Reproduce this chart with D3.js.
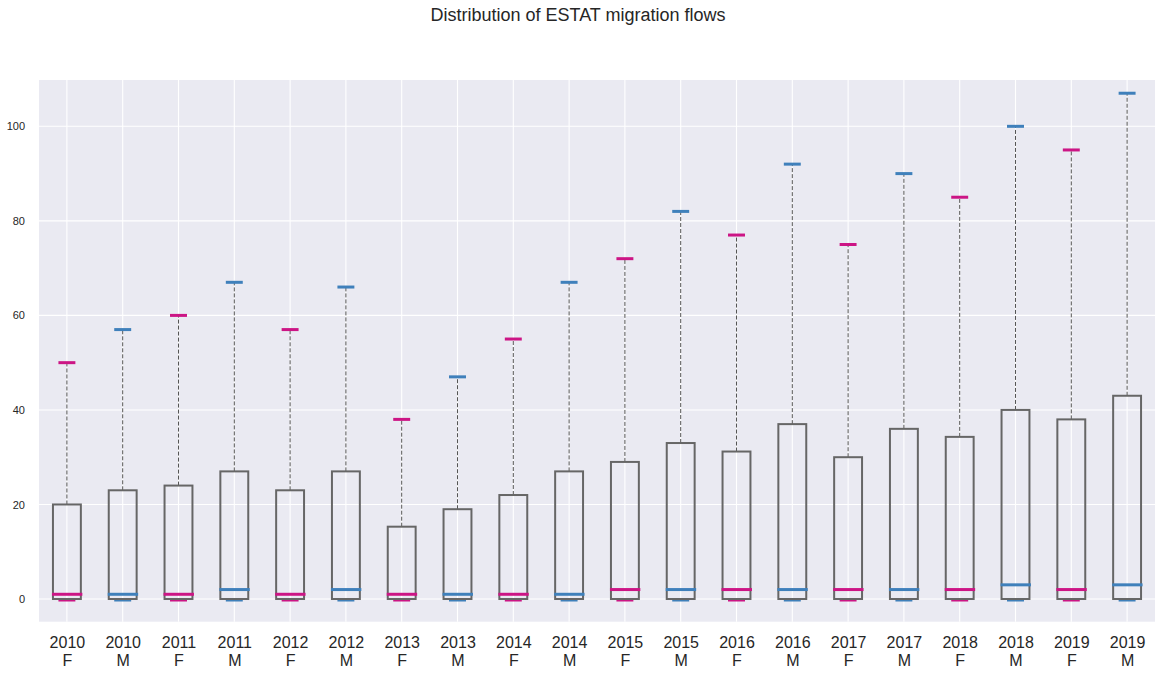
<!DOCTYPE html>
<html><head><meta charset="utf-8">
<script src="https://cdn.jsdelivr.net/npm/d3@7"></script>
<style>body{margin:0;background:#fff;} text{font-family:"Liberation Sans",Arial,sans-serif;}</style>
</head><body><svg id="c" width="1161" height="675"></svg>
<script>
const years   = ["2010","2010","2011","2011","2012","2012","2013","2013","2014","2014","2015","2015","2016","2016","2017","2017","2018","2018","2019","2019"];
const sexes   = ["F","M","F","M","F","M","F","M","F","M","F","M","F","M","F","M","F","M","F","M"];
const q1      = [0,0,0,0,0,0,0,0,0,0,0,0,0,0,0,0,0,0,0,0];
const medians = [1,1,1,2,1,2,1,1,1,1,2,2,2,2,2,2,2,3,2,3];
const q3      = [20,23,24,27,23,27,15.3,19,22,27,29,33,31.2,37,30,36,34.3,40,38,43];
const whiskLo = [0,0,0,0,0,0,0,0,0,0,0,0,0,0,0,0,0,0,0,0];
const whiskHi = [50,57,60,67,57,66,38,47,55,67,72,82,77,92,75,90,85,100,95,107];
const yTicks  = [0,20,40,60,80,100];
const sexColor = {F:"#cc1585", M:"#3f80bb"};

const svg = d3.select("#c");
const L=39, R=1155, T=80, B=621.7;
const idx = d3.range(years.length);
const x = d3.scaleLinear().domain([0.5, years.length+0.5]).range([L,R]);
const y = d3.scaleLinear().domain([-4.8,109.8]).range([B,T]);
const step = x(2)-x(1);
const bw = step*0.5, cw = step*0.25;

svg.append("rect").attr("x",L).attr("y",T).attr("width",R-L).attr("height",B-T).attr("fill","#eaeaf2");
// grid
svg.append("g").selectAll("line").data(yTicks).join("line")
  .attr("x1",L).attr("x2",R).attr("y1",d=>y(d)).attr("y2",d=>y(d))
  .attr("stroke","#fff").attr("stroke-width",1.1);
svg.append("g").selectAll("line").data(idx).join("line")
  .attr("x1",i=>x(i+1)).attr("x2",i=>x(i+1)).attr("y1",T).attr("y2",B)
  .attr("stroke","#fff").attr("stroke-width",1.1);

// y axis labels
const ya = svg.append("g").attr("transform",`translate(${L},0)`)
  .call(d3.axisLeft(y).tickValues(yTicks).tickSize(0).tickPadding(14));
ya.select(".domain").remove();
ya.attr("color","#262626");
ya.selectAll("text").attr("font-size",11).attr("fill","#262626").attr("font-family","Liberation Sans, Arial, sans-serif");

// x axis labels
const xa = svg.append("g").attr("transform",`translate(0,${B})`)
  .call(d3.axisBottom(x).tickValues(idx.map(i=>i+1)).tickSize(0).tickFormat(""));
xa.select(".domain").remove();
xa.selectAll(".tick").each(function(v){
  const i=v-1, t=d3.select(this).append("text").attr("fill","#262626").attr("font-size",16)
    .attr("text-anchor","middle").attr("font-family","Liberation Sans, Arial, sans-serif");
  t.append("tspan").attr("x",0).attr("y",26).text(years[i]);
  t.append("tspan").attr("x",0).attr("y",44).text(sexes[i]);
});

const g = svg.append("g");
idx.forEach(i=>{
  const cx = x(i+1), col = sexColor[sexes[i]];
  // whiskers
  g.append("line").attr("x1",cx).attr("x2",cx).attr("y1",y(q3[i])).attr("y2",y(whiskHi[i]))
    .attr("stroke","#555").attr("stroke-width",1).attr("stroke-dasharray","4,2");
  // caps
  [whiskLo[i], whiskHi[i]].forEach((v,k)=>{
    g.append("line").attr("x1",cx-cw/2).attr("x2",cx+cw/2).attr("y1",y(v)+(k===0?1:0)).attr("y2",y(v)+(k===0?1:0))
      .attr("stroke",col).attr("stroke-width",3).attr("stroke-linecap","square");
  });
  // box
  g.append("rect").attr("x",cx-bw/2).attr("y",y(q3[i])).attr("width",bw).attr("height",y(q1[i])-y(q3[i]))
    .attr("fill","none").attr("stroke","#666").attr("stroke-width",2);
  // median
  g.append("line").attr("x1",cx-bw/2-1).attr("x2",cx+bw/2+1.5).attr("y1",y(medians[i])).attr("y2",y(medians[i]))
    .attr("stroke",col).attr("stroke-width",3);
});

svg.append("text").attr("x",578).attr("y",21).attr("text-anchor","middle")
  .attr("font-size",18).attr("fill","#262626").text("Distribution of ESTAT migration flows");
</script></body></html>
